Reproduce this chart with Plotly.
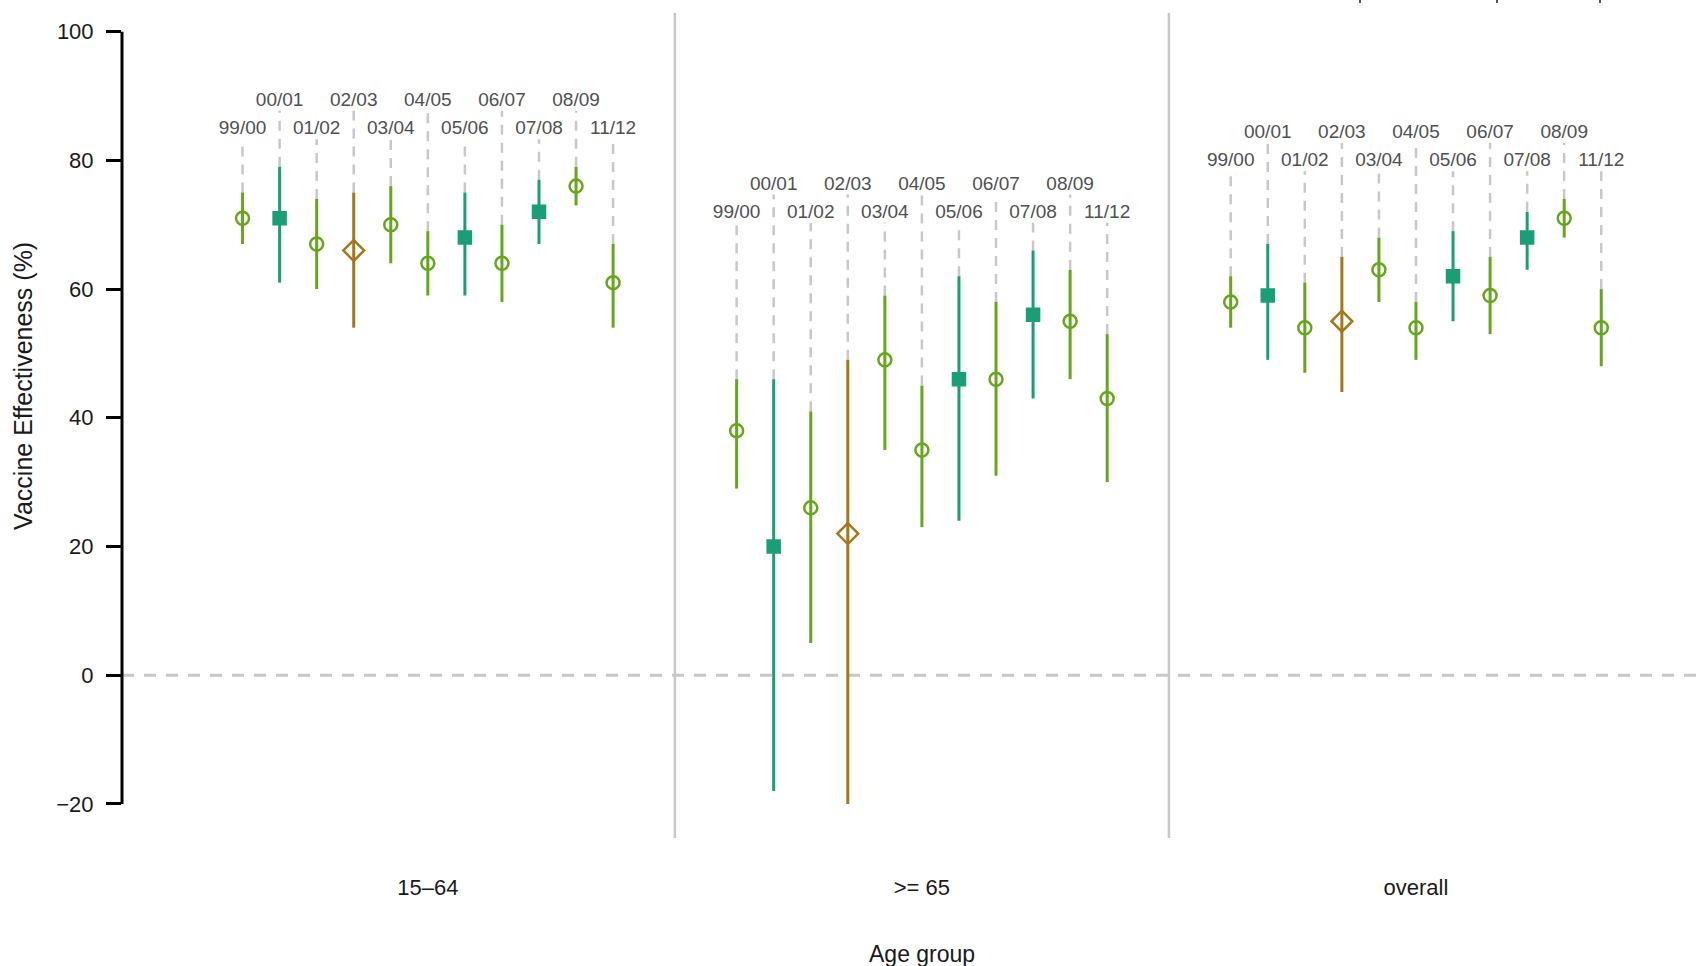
import plotly.graph_objects as go

# ---------------- data ----------------
groups = ["15–64", ">= 65", "overall"]
seasons = ["99/00", "00/01", "01/02", "02/03", "03/04", "04/05",
           "05/06", "06/07", "07/08", "08/09", "11/12"]
season_kind = ["circle", "square", "circle", "diamond", "circle", "circle",
               "square", "circle", "square", "circle", "circle"]

ve_15_64 = [71, 71, 67, 66, 70, 64, 68, 64, 72, 76, 61]
lo_15_64 = [67, 61, 60, 54, 64, 59, 59, 58, 67, 73, 54]
hi_15_64 = [75, 79, 74, 75, 76, 69, 75, 70, 77, 79, 67]

ve_65 = [38, 20, 26, 22, 49, 35, 46, 46, 56, 55, 43]
lo_65 = [29, -18, 5, -20, 35, 23, 24, 31, 43, 46, 30]
hi_65 = [46, 46, 41, 49, 59, 45, 62, 58, 66, 63, 53]

ve_all = [58, 59, 54, 55, 63, 54, 62, 59, 68, 71, 54]
lo_all = [54, 49, 47, 44, 58, 49, 55, 53, 63, 68, 48]
hi_all = [62, 67, 61, 65, 68, 58, 69, 65, 72, 74, 60]

y_ticks = [-20, 0, 20, 40, 60, 80, 100]

# ---------------- styles ----------------
kind_style = {
    "circle": dict(color="#66A61E", symbol="circle-open", size=13),
    "square": dict(color="#1B9E77", symbol="square", size=12),
    "diamond": dict(color="#A6761D", symbol="diamond-open", size=16),
}
GRID = "#c8c8c8"
FONT = "Liberation Sans, Arial, Helvetica, sans-serif"
STEP = 0.075

series = [(ve_15_64, lo_15_64, hi_15_64),
          (ve_65, lo_65, hi_65),
          (ve_all, lo_all, hi_all)]

fig = go.Figure()

# dashed leader lines + season labels
dx, dy = [], []
lx, ly, lt = [], [], []
for g, (ve, lo, hi) in enumerate(series, start=1):
    lower_row = max(hi) + 5.8
    upper_row = lower_row + 4.4
    for i, s in enumerate(seasons):
        x = g + (i - 5) * STEP
        ytxt = lower_row if i % 2 == 0 else upper_row
        dx += [x, x, None]
        dy += [hi[i], ytxt - 1.5, None]
        lx.append(x)
        ly.append(ytxt)
        lt.append(s)

fig.add_trace(go.Scatter(x=dx, y=dy, mode="lines",
                         line=dict(color=GRID, width=2.5, dash="10px,8px"),
                         hoverinfo="skip", showlegend=False))

# CI lines by kind
for kind, st in kind_style.items():
    cx, cy = [], []
    for g, (ve, lo, hi) in enumerate(series, start=1):
        for i in range(len(seasons)):
            if season_kind[i] != kind:
                continue
            x = g + (i - 5) * STEP
            cx += [x, x, None]
            cy += [lo[i], hi[i], None]
    fig.add_trace(go.Scatter(x=cx, y=cy, mode="lines",
                             line=dict(color=st["color"], width=3),
                             hoverinfo="skip", showlegend=False))

# point estimates
for kind, st in kind_style.items():
    px, py = [], []
    for g, (ve, lo, hi) in enumerate(series, start=1):
        for i in range(len(seasons)):
            if season_kind[i] != kind:
                continue
            px.append(g + (i - 5) * STEP)
            py.append(ve[i])
    fig.add_trace(go.Scatter(
        x=px, y=py, mode="markers",
        marker=dict(symbol=st["symbol"], size=st["size"], color=st["color"],
                    line=dict(color=st["color"], width=2.5)),
        showlegend=False))

fig.add_trace(go.Scatter(x=lx, y=ly, text=lt, mode="text",
                         textfont=dict(family=FONT, size=19, color="#505050"),
                         textposition="middle center",
                         hoverinfo="skip", showlegend=False))

# ---------------- reference lines ----------------
shapes = [
    dict(type="line", xref="paper", x0=0, x1=1, yref="y", y0=0, y1=0,
         line=dict(color=GRID, width=3, dash="12px,10px"), layer="below"),
    dict(type="line", xref="x", x0=1.5, x1=1.5, yref="paper", y0=0, y1=1,
         line=dict(color=GRID, width=2.5), layer="below"),
    dict(type="line", xref="x", x0=2.5, x1=2.5, yref="paper", y0=0, y1=1,
         line=dict(color=GRID, width=2.5), layer="below"),
    dict(type="line", xref="paper", x0=0, x1=0, yref="y",
         y0=min(y_ticks), y1=max(y_ticks),
         line=dict(color="black", width=3)),
]
# small marks at top edge (cropped artefacts of the source)
for pxl in [1360, 1497, 1600]:
    xp = (pxl - 122) / 1584
    shapes.append(dict(type="line", xref="paper", yref="paper",
                       x0=xp, x1=xp, y0=1.0121, y1=1.0158,
                       line=dict(color="#555555", width=2)))

fig.update_layout(
    width=1706, height=966,
    margin=dict(l=122, r=0, t=13, b=128),
    paper_bgcolor="white", plot_bgcolor="white",
    font=dict(family=FONT, color="#1a1a1a"),
    shapes=shapes,
    xaxis=dict(range=[0.381, 3.587], tickvals=[1, 2, 3], ticktext=groups,
               ticks="", showgrid=False, zeroline=False, showline=False,
               tickfont=dict(size=22, color="#1a1a1a"),
               ticklabelstandoff=34),
    yaxis=dict(range=[-25.3, 102.9], tickvals=y_ticks,
               ticks="outside", ticklen=15, tickwidth=3, tickcolor="black",
               showgrid=False, zeroline=False, showline=False,
               tickfont=dict(size=22, color="#1a1a1a"),
               ticklabelstandoff=8),
    annotations=[
        dict(text="Age group", xref="x", x=2, yref="paper", y=-0.14,
             xanchor="center", yanchor="middle", showarrow=False,
             font=dict(size=23, color="#1a1a1a")),
        dict(text="Vaccine Effectiveness (%)", xref="paper", x=-0.0625,
             yref="paper", y=0.548, textangle=-90,
             xanchor="center", yanchor="middle", showarrow=False,
             font=dict(size=25, color="#1a1a1a")),
    ],
    hovermode=False,
)

fig.write_html("out.html",
               config={"displayModeBar": False},
               post_script="document.body.style.margin='0';document.body.style.overflow='hidden';")
